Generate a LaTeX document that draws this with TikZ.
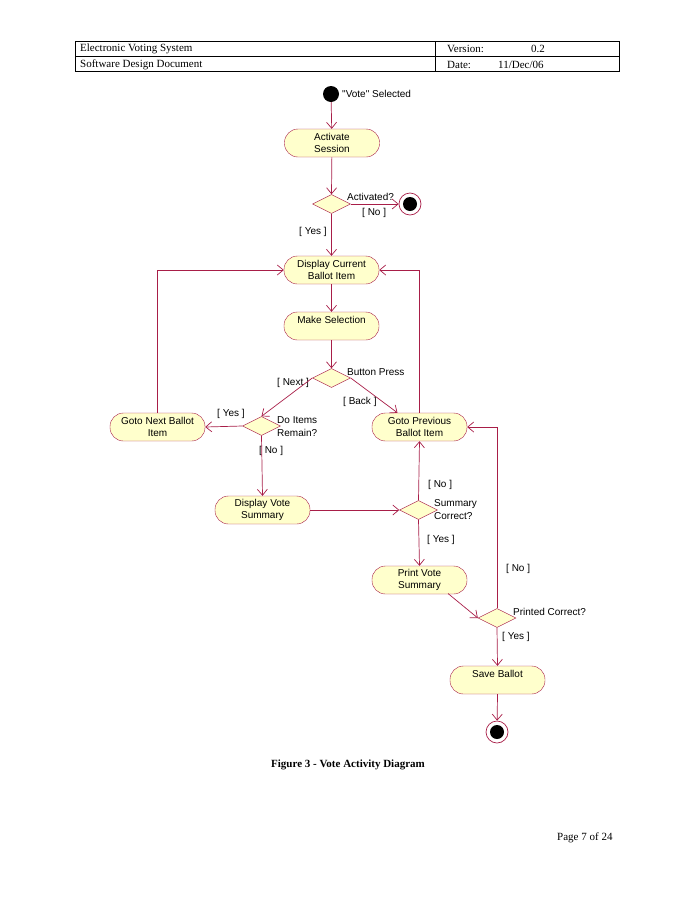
\documentclass[tikz,border=0pt]{standalone}
\usepackage{fontspec}
\setmainfont{Liberation Serif}
\newfontfamily\dfont{Liberation Sans}
\usetikzlibrary{arrows.meta,shapes.geometric}
\definecolor{lineC}{RGB}{168,30,72}
\definecolor{fillC}{RGB}{255,255,204}
\tikzset{
  act/.style={draw=lineC, fill=fillC, rounded corners=13.5pt, minimum width=95pt, minimum height=28pt, inner sep=0pt, align=center, font=\dfont\fontsize{10}{12.7}\selectfont},
  dec/.style={draw=lineC, fill=fillC, diamond, minimum width=38pt, minimum height=19pt, inner sep=0pt},
  flow/.style={draw=lineC, line width=0.7pt, -{Straight Barb[length=6pt,width=10pt]}},
  plain/.style={draw=lineC, line width=0.7pt},
  lbl/.style={anchor=west, inner sep=0pt, align=left, font=\dfont\fontsize{10}{12.7}\selectfont},
  hdr/.style={anchor=west, inner sep=0pt, font=\fontsize{11}{13}\selectfont},
  startnode/.style={circle, fill=black, minimum size=16pt, inner sep=0pt},
  endnode/.style={circle, draw=lineC, fill=white, minimum size=22pt, inner sep=0pt, line width=0.7pt,
    path picture={\fill[black] (path picture bounding box.center) circle (7pt);}}
}
\begin{document}
\begin{tikzpicture}[x=1pt,y=-1pt]
\useasboundingbox (0,0) rectangle (696,900);
% header table
\draw[line width=0.8pt] (75,41) rectangle (619,71);
\draw[line width=0.8pt] (75,56) -- (619,56);
\draw[line width=0.8pt] (435,41) -- (435,71);
\node[hdr] (h1) at (80,49) {Electronic Voting System};
\node[hdr] (h2) at (80,64.5) {Software Design Document};
\node[hdr] (h3) at (447,49) {Version:};
\node[hdr] (h4) at (531,49) {0.2};
\node[hdr] (h5) at (447,64.5) {Date:};
\node[hdr] (h6) at (498,64.5) {11/Dec/06};

% nodes
\node[startnode] (start) at (331,94) {};
\node[lbl] (lstart) at (342,94) {"Vote" Selected};
\node[act] (act) at (332,143) {Activate\\Session};
\node[dec] (d1) at (331.5,204) {};
\node[endnode] (end1) at (410,204) {};
\node[act] (disp) at (331.5,270) {Display Current\\Ballot Item};
\node[act] (make) at (331.5,326) {Make Selection\\~};
\node[dec] (d2) at (331.5,378) {};
\node[dec] (d3) at (261.5,426) {};
\node[act] (next) at (157.5,427) {Goto Next Ballot\\Item};
\node[act] (prev) at (419.5,427) {Goto Previous\\Ballot Item};
\node[act] (dvs) at (262.5,510) {Display Vote\\Summary};
\node[dec] (d4) at (418.5,510) {};
\node[act] (pvs) at (419.5,580) {Print Vote\\Summary};
\node[dec] (d5) at (497,618) {};
\node[act] (save) at (497.5,680) {Save Ballot\\~};
\node[endnode] (end2) at (497,732) {};

% labels
\node[lbl] (l1) at (347,197) {Activated?};
\node[lbl] (l2) at (362,213) {[ No ]};
\node[lbl] (l3) at (299,232) {[ Yes ]};
\node[lbl] (l4) at (347,372) {Button Press};
\node[lbl] (l5) at (277,383) {[ Next ]};
\node[lbl] (l6) at (343,402) {[ Back ]};
\node[lbl] (l7) at (217,414) {[ Yes ]};
\node[lbl] (l8) at (277,426.5) {Do Items\\Remain?};
\node[lbl] (l9) at (259,451) {[ No ]};
\node[lbl] (l10) at (428,485) {[ No ]};
\node[lbl] (l11) at (434,509.5) {Summary\\Correct?};
\node[lbl] (l12) at (427,540) {[ Yes ]};
\node[lbl] (l13) at (506,569) {[ No ]};
\node[lbl] (l14) at (513,612) {Printed Correct?};
\node[lbl] (l15) at (502,637) {[ Yes ]};

% connectors
\path[flow] (start) -- (act);
\path[flow] (act) -- (d1.north);
\path[flow] (d1.east) -- (end1);
\path[flow] (d1.south) -- (disp);
\path[flow] (disp) -- (make);
\path[flow] (make) -- (d2.north);
\path[flow] (d2.west) -- (d3.north);
\coordinate (prevtop) at ([xshift=-22pt]prev.north);
\path[flow] (d2.east) -- (prevtop);
\path[flow] (d3.west) -- (next.east);
\path[flow] (next.north) |- (disp.west);
\path[flow] (prev.north) |- (disp.east);
\path[flow] (d3.south) -- (dvs.north);
\path[flow] (dvs.east) -- (d4.west);
\path[flow] (d4.north) -- (prev.south);
\path[flow] (d4.south) -- (pvs.north);
\coordinate (pvsout) at (448,593.5);
\path[flow] (pvsout) -- (d5.west);
\path[flow] (d5.north) |- (prev.east);
\path[flow] (d5.south) -- (save.north);
\path[flow] (save.south) -- (end2);

% caption and footer
\node[anchor=center, inner sep=0pt, font=\bfseries\fontsize{11}{13}\selectfont] (cap) at (348,765) {Figure 3 - Vote Activity Diagram};
\node[anchor=west, inner sep=0pt, font=\fontsize{11}{13}\selectfont] (page) at (557,838) {Page 7 of 24};
\end{tikzpicture}
\end{document}
